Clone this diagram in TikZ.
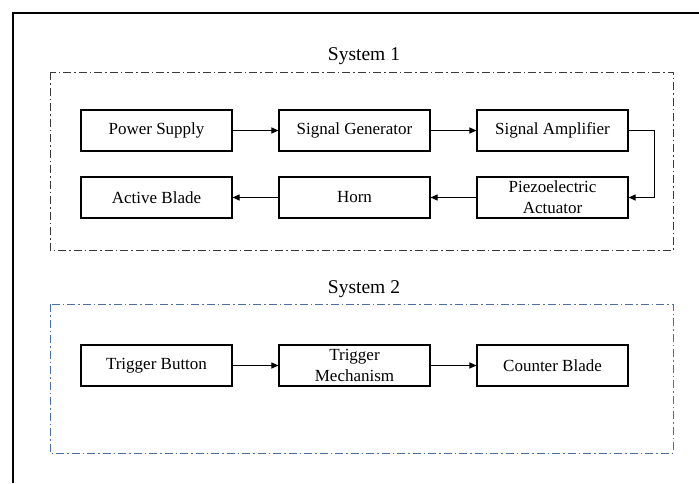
\documentclass[tikz,border=0pt]{standalone}
\usepackage{fontspec}
\setmainfont{Liberation Serif}
\usetikzlibrary{arrows.meta}
\definecolor{sysblue}{HTML}{4A6EA8}
\definecolor{sysgray}{HTML}{3A3A3A}
\tikzset{
  block/.style={draw=black, line width=1.1pt, fill=white, minimum width=151pt,
    minimum height=41pt, inner sep=1pt, align=center,
    font=\fontsize{17}{21}\selectfont},
  flow/.style={line width=1pt, -{Triangle[length=7pt,width=6pt]}},
  groupbox/.style={line width=1pt, dash pattern=on 8pt off 3pt on 1.5pt off 3pt},
  grouplabel/.style={font=\fontsize{19.5}{22}\selectfont, inner sep=0pt}
}
\begin{document}
\begin{tikzpicture}[x=1pt,y=-1pt]
\useasboundingbox (0,0) rectangle (699,483);
\fill[white] (0,0) rectangle (699,483);
% page frame (left and top edges)
\draw[line width=2pt] (13,483) -- (13,13) -- (699,13);

% group frames
\draw[groupbox, draw=sysgray] (50,72) rectangle (673,250);
\draw[groupbox, draw=sysblue] (50,304) rectangle (673,453);
\node[grouplabel] (s1) at (364,56) {System 1};
\node[grouplabel] (s2) at (364,289) {System 2};

% System 1 blocks
\node[block] (ps)   at (156.5,130.5) {Power Supply};
\node[block] (sg)   at (354.5,130.5) {Signal Generator};
\node[block] (sa)   at (552.5,130.5) {Signal Amplifier};
\node[block] (ab)   at (156.5,197.5) {Active Blade};
\node[block] (horn) at (354.5,197.5) {Horn};
\node[block] (pz)   at (552.5,197.5) {Piezoelectric\\Actuator};

\draw[flow] (ps) -- (sg);
\draw[flow] (sg) -- (sa);
\draw[flow] (sa.east) -- ++(26,0) |- (pz.east);
\draw[flow] (pz) -- (horn);
\draw[flow] (horn) -- (ab);

% System 2 blocks
\node[block] (tb) at (156.5,365.5) {Trigger Button};
\node[block] (tm) at (354.5,365.5) {Trigger\\Mechanism};
\node[block] (cb) at (552.5,365.5) {Counter Blade};

\draw[flow] (tb) -- (tm);
\draw[flow] (tm) -- (cb);
\end{tikzpicture}
\end{document}
